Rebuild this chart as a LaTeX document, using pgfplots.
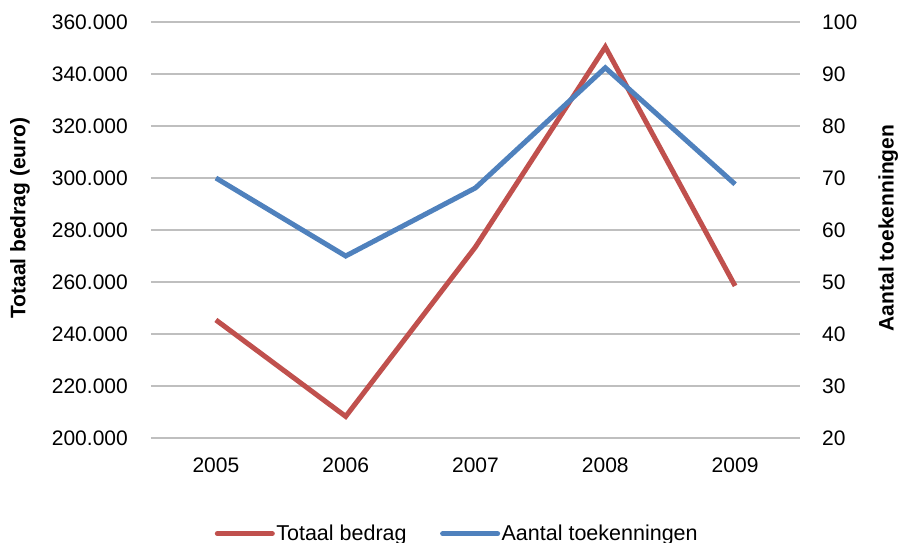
\documentclass[border=0pt]{standalone}
\usepackage{fontspec}
\setmainfont{Liberation Sans}
\usepackage{pgfplots}
\pgfplotsset{compat=1.18}
\definecolor{bedrag}{HTML}{C0504D}
\definecolor{aantal}{HTML}{4F81BD}
\definecolor{gridc}{HTML}{BFBFBF}

\pgfplotsset{
  base/.style={
    scale only axis,
    width=649pt, height=416pt,
    xmin=-0.5, xmax=4.5,
    axis line style={draw=none},
    major tick length=0pt,
    font=\fontsize{21}{24}\selectfont,
    /pgf/number format/assume math mode=true,
  },
}

\begin{document}
\begin{tikzpicture}
\useasboundingbox (-151pt,-105pt) rectangle (749pt,438pt);
\begin{axis}[
  base,
  ymin=200000, ymax=360000,
  ytick={200000,220000,...,360000},
  scaled y ticks=false,
  yticklabel style={/pgf/number format/fixed, /pgf/number format/1000 sep={.},
    anchor=east, inner sep=0pt, xshift=-23pt},
  xtick={0,1,2,3,4},
  xticklabels={2005,2006,2007,2008,2009},
  xticklabel style={anchor=north, inner sep=0pt, yshift=-20pt},
  ymajorgrids,
  grid style={gridc, line width=1.2pt},
  ylabel={\bfseries Totaal bedrag (euro)},
  ylabel style={at={(axis description cs:-0.202,0.529)}, anchor=center},
]
\addplot[bedrag, line width=5pt, line join=miter] coordinates {
  (0,245400) (1,208300) (2,273500) (3,350400) (4,258500)
};
\end{axis}
\begin{axis}[
  base,
  ymin=20, ymax=100,
  ytick={20,30,...,100},
  axis y line*=right,
  axis x line=none,
  yticklabel style={anchor=west, inner sep=0pt, xshift=22pt},
  ylabel={\bfseries Aantal toekenningen},
  ylabel style={at={(axis description cs:1.136,0.505)}, anchor=center},
  legend style={
    at={(0.4715,-0.23)}, anchor=center,
    draw=none, fill=none,
    legend columns=-1,
    /tikz/every even column/.append style={column sep=32pt},
    font=\fontsize{21.5}{24}\selectfont,
    nodes={inner sep=1.5pt},
  },
  legend cell align=left,
  legend image code/.code={\draw[#1, line cap=round] (0pt,0pt) -- (55pt,0pt);},
]
\addlegendimage{bedrag, line width=5pt}
\addlegendentry{Totaal bedrag}
\addplot[aantal, line width=5pt, line join=miter] coordinates {
  (0,70) (1,55) (2,68.1) (3,91.2) (4,68.8)
};
\addlegendentry{Aantal toekenningen}
\end{axis}
\end{tikzpicture}
\end{document}
